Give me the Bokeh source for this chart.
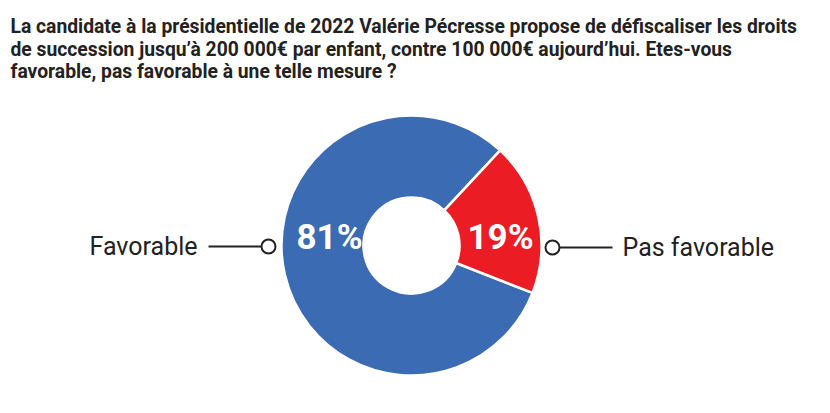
import numpy as np
from bokeh.plotting import figure
from bokeh.models import Range1d, ColumnDataSource
from bokeh.core.properties import value
from bokeh.embed import file_html
from bokeh.resources import INLINE

# ---- data ----
title_lines = [
    "La candidate à la présidentielle de 2022 Valérie Pécresse propose de défiscaliser les droits",
    "de succession jusqu’à 200 000€ par enfant, contre 100 000€ aujourd’hui. Etes-vous",
    "favorable, pas  favorable à une telle mesure ?",
]
categories = ["Favorable", "Pas favorable"]
values = [81, 19]
pct_labels = ["81%", "19%"]
colors = ["#3a6bb3", "#ec1c24"]

# ---- layout ----
W, H = 814, 397
def X(px):
    return px
def Y(py):
    return H - py

p = figure(width=W, height=H, x_range=Range1d(0, W), y_range=Range1d(0, H),
           output_backend="svg", toolbar_location=None, min_border=0)
p.axis.visible = False
p.grid.visible = False
p.outline_line_color = None
p.background_fill_color = "white"

# title
p.text(x=[X(10)] * 3, y=[Y(26), Y(49), Y(71)], text=title_lines,
       text_font=value("Roboto"), text_font_style="bold",
       text_font_size="19.3px", text_color="#222222", text_baseline="alphabetic")

# donut
cx, cy = X(411), Y(245)
r_out, r_in = 130, 48
vals = np.array(values, dtype=float)
ang = vals / vals.sum() * 2 * np.pi
start0 = np.deg2rad(47)
ends = start0 + np.cumsum(ang)
starts = ends - ang
src = ColumnDataSource(dict(start=starts, end=ends, color=colors, cat=categories))
p.annular_wedge(x=cx, y=cy, inner_radius=r_in, outer_radius=r_out,
                start_angle="start", end_angle="end", fill_color="color",
                line_color="white", line_width=2.5, source=src)

# percent labels
label_x = [X(329), X(500)]
p.text(x=label_x, y=[Y(237)] * 2, text=pct_labels, text_font=value("Roboto"),
       text_font_style="bold", text_font_size="35px", text_color="white",
       text_align="center", text_baseline="middle")

# leader lines + category labels
p.segment(x0=[X(208), X(559)], y0=[Y(246), Y(247)], x1=[X(261), X(612)], y1=[Y(246), Y(247)],
          line_color="#222222", line_width=2)
p.scatter(x=[X(268), X(552)], y=[Y(246), Y(247)], size=14, marker="circle",
          fill_color="white", line_color="#222222", line_width=2)
p.text(x=[X(197)], y=[Y(246)], text=[categories[0]], text_font=value("Roboto"),
       text_font_size="25px", text_color="#222222", text_align="right", text_baseline="alphabetic")
p.text(x=[X(622)], y=[Y(247)], text=[categories[1]], text_font=value("Roboto"),
       text_font_size="25px", text_color="#222222", text_align="left", text_baseline="alphabetic")

open("out.html", "w").write(file_html(p, INLINE))
